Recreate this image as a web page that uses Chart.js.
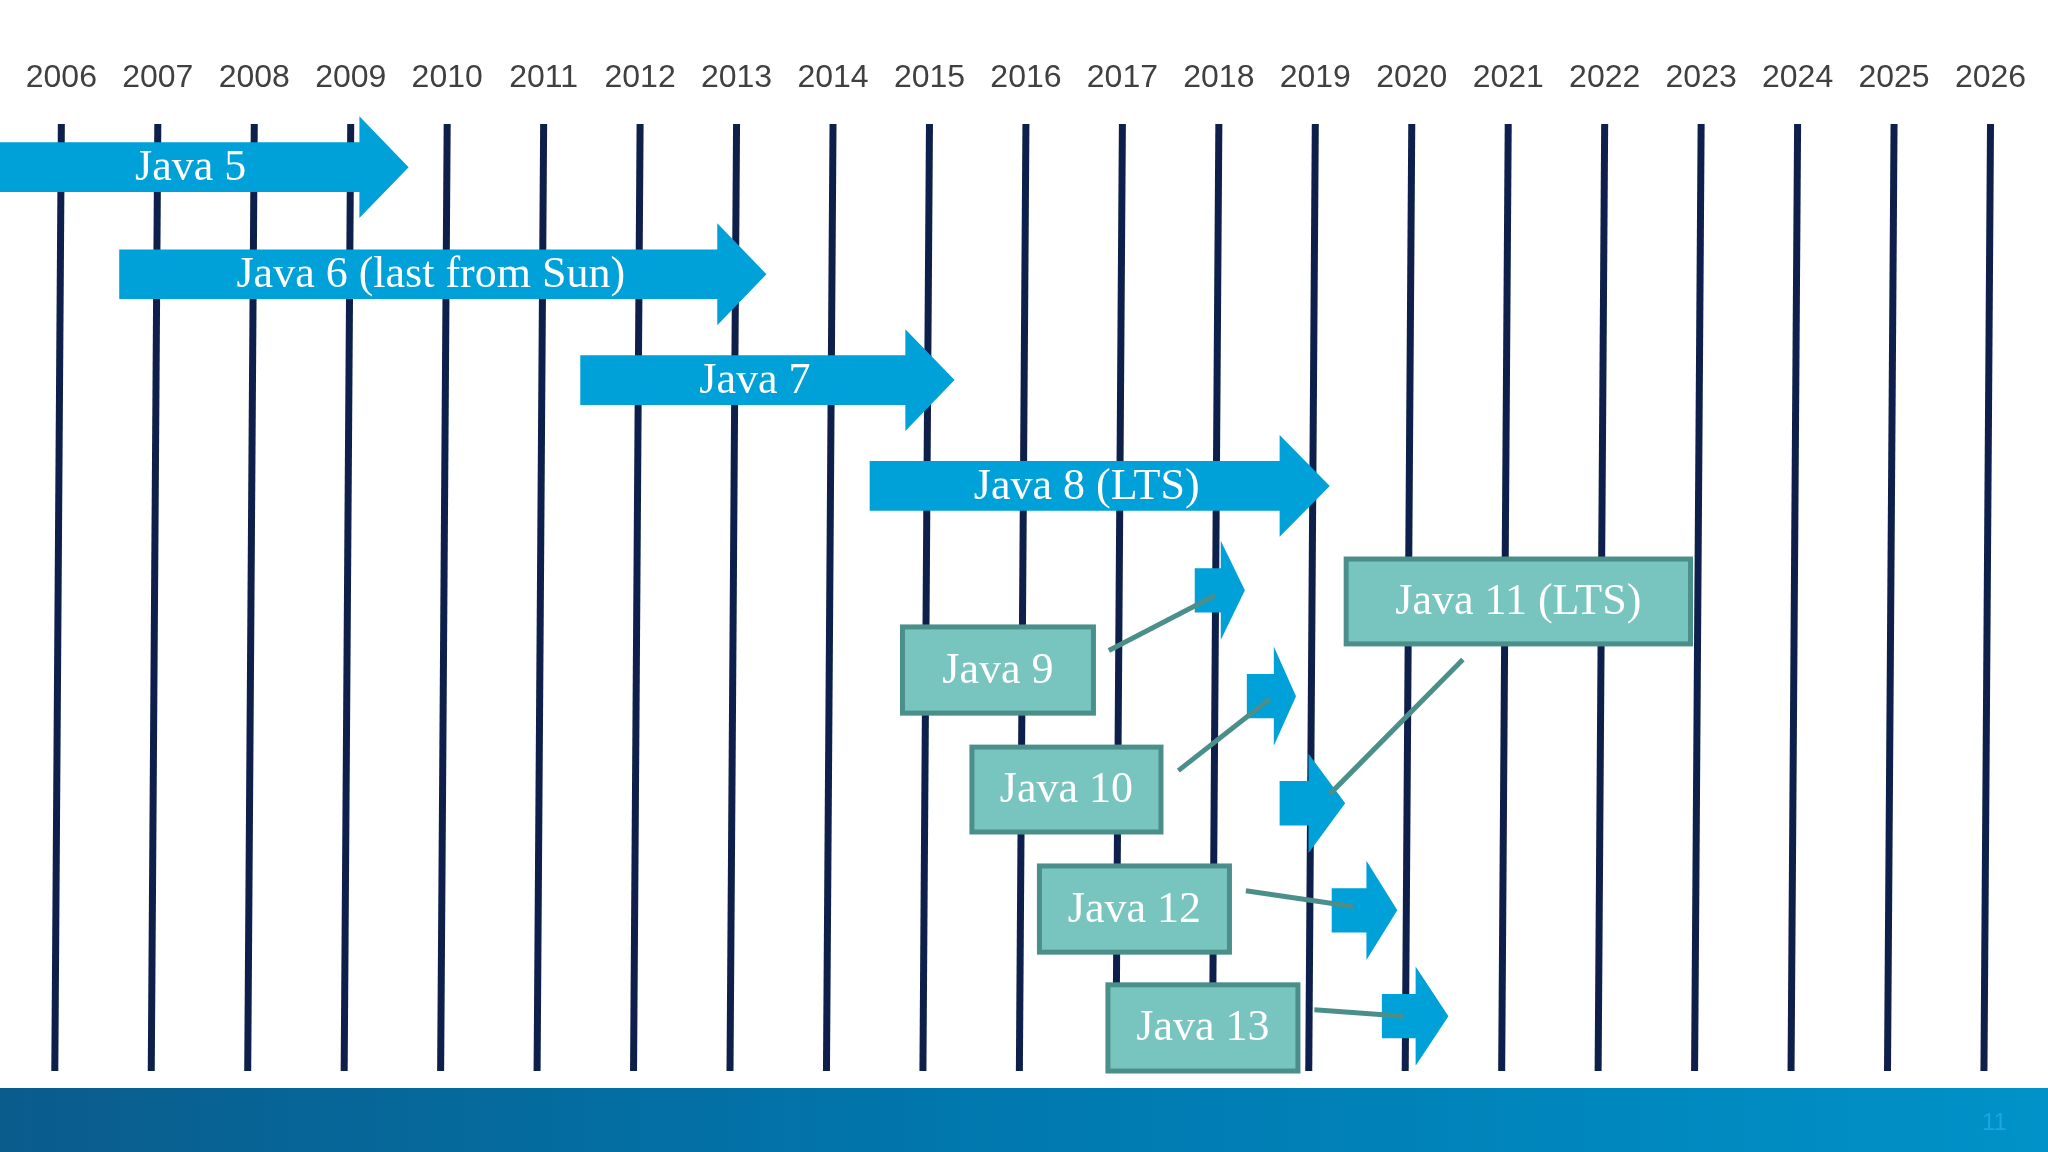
<!DOCTYPE html>
<html>
<head>
<meta charset="utf-8">
<script src="https://cdn.jsdelivr.net/npm/chart.js@4/dist/chart.umd.min.js"></script>
<style>
  html, body { margin: 0; padding: 0; background: #ffffff; }
  #wrap { width: 2048px; height: 1152px; position: relative; }
</style>
</head>
<body>
<div id="wrap"><canvas id="chart"></canvas></div>
<script>
// years shown along the top
const years = [2006, 2007, 2008, 2009, 2010, 2011, 2012, 2013, 2014, 2015, 2016,
               2017, 2018, 2019, 2020, 2021, 2022, 2023, 2024, 2025, 2026];

// big release arrows: [start year, body end year, tip year], row (slide units)
const bigNames = ["Java 5", "Java 6 (last from Sun)", "Java 7", "Java 8 (LTS)"];
const bigStart = [2005.36, 2006.6, 2011.38, 2014.38];
const bigBodyEnd = [2009.09, 2012.8, 2014.75, 2018.63];
const bigTip = [2009.6, 2013.31, 2015.26, 2019.15];
const bigRow = [128, 210, 291, 372];
const bigLabelAt = [2007.34, 2009.83, 2013.19, 2016.63];

// short releases: box [x0, x1] years, box rows [top, bottom], small arrow
const boxNames = ["Java 9", "Java 10", "Java 11 (LTS)", "Java 12", "Java 13"];
const boxX0 = [2014.72, 2015.44, 2019.32, 2016.14, 2016.85];
const boxX1 = [2016.70, 2017.40, 2022.89, 2018.11, 2018.82];
const boxTop = [480, 572, 428, 663, 754];
const boxBottom = [546, 637, 493, 729, 820];
const smallStart = [2017.75, 2018.29, 2018.63, 2019.17, 2019.69];
const smallBodyEnd = [2018.02, 2018.57, 2018.93, 2019.53, 2020.04];
const smallTip = [2018.27, 2018.80, 2019.31, 2019.85, 2020.38];
const smallRow = [452, 533, 615, 697, 778];
// connector lines [x0, y0, x1, y1]
const linkX0 = [2016.86, 2017.58, 2020.53, 2018.28, 2018.99];
const linkY0 = [498, 590, 505, 682, 773];
const linkX1 = [2017.96, 2018.53, 2019.15, 2019.39, 2019.92];
const linkY1 = [456, 535, 608, 694, 778];

const colors = {
    navy: "#0d1f4a",
    arrow: "#00a0d8",
    boxFill: "#78c4bf",
    boxEdge: "#4b8f8b",
    tick: "#404040",
};

const px = (chart, x, y) => [chart.scales.x.getPixelForValue(x), chart.scales.y.getPixelForValue(y)];

function drawArrow(ctx, chart, x0, xb, xt, row, bodyH, headH) {
    const [a, yc] = px(chart, x0, row);
    const b = chart.scales.x.getPixelForValue(xb);
    const t = chart.scales.x.getPixelForValue(xt);
    const k = chart.scales.y.getPixelForValue(1) - chart.scales.y.getPixelForValue(0);
    const bh = bodyH * k / 2, hh = headH * k / 2;
    ctx.beginPath();
    ctx.moveTo(a, yc - bh);
    ctx.lineTo(b, yc - bh);
    ctx.lineTo(b, yc - hh);
    ctx.lineTo(t, yc);
    ctx.lineTo(b, yc + hh);
    ctx.lineTo(b, yc + bh);
    ctx.lineTo(a, yc + bh);
    ctx.closePath();
    ctx.fillStyle = colors.arrow;
    ctx.fill();
}

const timeline = {
    id: "timeline",
    beforeDraw(chart) {
        const ctx = chart.ctx;
        const W = chart.width, H = chart.height;
        ctx.save();
        ctx.fillStyle = "#ffffff";
        ctx.fillRect(0, 0, W, H);

        // year labels and vertical lines
        ctx.font = "32px 'Liberation Sans', Arial, sans-serif";
        ctx.fillStyle = colors.tick;
        ctx.textAlign = "center";
        ctx.textBaseline = "middle";
        years.forEach(yr => {
            const [x, y] = px(chart, yr, 60);
            ctx.fillText(String(yr), x, y);
            const [xt, yt] = px(chart, yr, 95);
            const [xb, yb] = px(chart, yr - 0.068, 820);
            ctx.beginPath();
            ctx.moveTo(xt, yt);
            ctx.lineTo(xb, yb);
            ctx.lineWidth = 7;
            ctx.strokeStyle = colors.navy;
            ctx.stroke();
        });

        // big arrows
        ctx.font = "44px 'Liberation Serif', 'Times New Roman', serif";
        bigNames.forEach((name, i) => {
            drawArrow(ctx, chart, bigStart[i], bigBodyEnd[i], bigTip[i], bigRow[i], 38, 78);
            const [x, y] = px(chart, bigLabelAt[i], bigRow[i] + 1);
            ctx.fillStyle = "#ffffff";
            ctx.fillText(name, x, y);
        });

        // small arrows
        smallRow.forEach((row, i) => {
            drawArrow(ctx, chart, smallStart[i], smallBodyEnd[i], smallTip[i], row, 34, 76);
        });

        // connectors
        ctx.strokeStyle = colors.boxEdge;
        ctx.lineWidth = 5;
        linkX0.forEach((x0, i) => {
            const [a, b] = px(chart, x0, linkY0[i]);
            const [c, d] = px(chart, linkX1[i], linkY1[i]);
            ctx.beginPath();
            ctx.moveTo(a, b);
            ctx.lineTo(c, d);
            ctx.stroke();
        });

        // boxes
        boxNames.forEach((name, i) => {
            const [x0, y0] = px(chart, boxX0[i], boxTop[i]);
            const [x1, y1] = px(chart, boxX1[i], boxBottom[i]);
            ctx.fillStyle = colors.boxFill;
            ctx.fillRect(x0, y0, x1 - x0, y1 - y0);
            ctx.lineWidth = 5;
            ctx.strokeStyle = colors.boxEdge;
            ctx.strokeRect(x0, y0, x1 - x0, y1 - y0);
            ctx.fillStyle = "#ffffff";
            ctx.fillText(name, (x0 + x1) / 2, (y0 + y1) / 2 + 1);
        });

        // footer band
        const [, fy] = px(chart, 2006, 833);
        const g = ctx.createLinearGradient(0, 0, W, 0);
        g.addColorStop(0, "#0a5c8c");
        g.addColorStop(0.5, "#0079b0");
        g.addColorStop(1, "#0092c8");
        ctx.fillStyle = g;
        ctx.fillRect(0, fy, W, H - fy);
        ctx.font = "24px 'Liberation Sans', Arial, sans-serif";
        ctx.fillStyle = "#1aa6e0";
        const [nx, ny] = px(chart, 2026.04, 860);
        ctx.fillText("11", nx, ny);
        ctx.restore();
    }
};

new Chart(document.getElementById("chart"), {
    type: "scatter",
    data: { datasets: [{ data: [] }] },
    options: {
        responsive: true,
        maintainAspectRatio: false,
        animation: false,
        layout: { padding: 0 },
        plugins: { legend: { display: false }, tooltip: { enabled: false } },
        scales: {
            x: { type: "linear", min: 2005.364, max: 2026.596, display: false },
            y: { type: "linear", min: 0, max: 882, reverse: true, display: false },
        },
    },
    plugins: [timeline],
});
</script>
</body>
</html>
